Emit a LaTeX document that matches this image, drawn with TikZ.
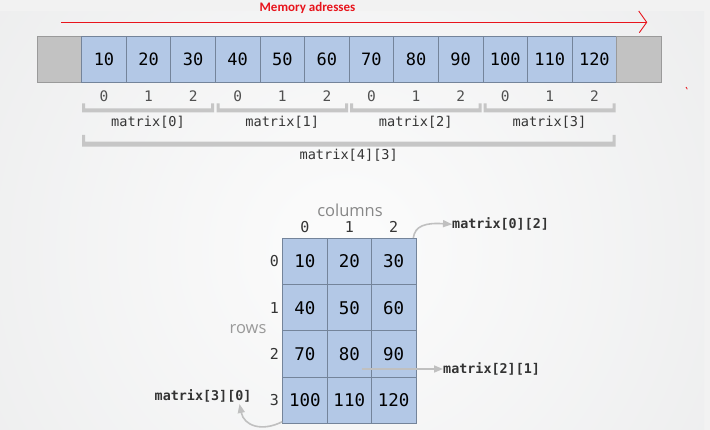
\documentclass[tikz,border=0pt]{standalone}
\usepackage{fontspec}
\setmainfont{Open Sans}
\setmonofont{DejaVu Sans Mono}
\newfontfamily\carl{Carlito}
\usetikzlibrary{arrows.meta}
\definecolor{cellblue}{HTML}{B3C8E6}
\definecolor{cellline}{HTML}{74849A}
\definecolor{cellgray}{HTML}{C2C2C2}
\definecolor{grayline}{HTML}{9A9A9A}
\definecolor{bgin}{HTML}{FCFCFC}
\definecolor{bgout}{HTML}{E4E5E6}
\definecolor{bgstrip}{HTML}{F2F2F2}
\definecolor{memred}{HTML}{E8141C}
\definecolor{brk}{HTML}{C6C6C6}
\definecolor{arrowgray}{HTML}{C0C0C0}
\definecolor{idxgray}{HTML}{505050}
\definecolor{labdark}{HTML}{353535}
\tikzset{
  barcell/.style={draw=cellline, line width=0.8pt, fill=cellblue, minimum width=44.58pt, minimum height=46.3pt, inner sep=0pt, font=\ttfamily\fontsize{17}{20}\selectfont},
  endcell/.style={draw=grayline, line width=0.8pt, fill=cellgray, minimum width=44.4pt, minimum height=46.3pt, inner sep=0pt},
  gcell/.style={draw=cellline, line width=0.8pt, fill=cellblue, minimum width=44.4pt, minimum height=46.25pt, inner sep=0pt, font=\ttfamily\fontsize{17.5}{20}\selectfont},
  idx/.style={text=idxgray, inner sep=0pt, font=\ttfamily\fontsize{14.5}{17}\selectfont},
  rclab/.style={text=labdark, inner sep=0pt, font=\ttfamily\fontsize{15}{17}\selectfont},
  grouplab/.style={text=labdark, inner sep=0pt, font=\ttfamily\fontsize{13.6}{16}\selectfont},
  calllab/.style={text=black!80, inner sep=0pt, font=\ttfamily\bfseries\fontsize{13.4}{16}\selectfont},
  axislab/.style={inner sep=0pt, font=\fontsize{16.5}{19}\selectfont},
  garrow/.style={draw=arrowgray, line width=1.6pt, -{Triangle[length=9pt,width=7pt]}},
  redline/.style={draw=memred, line width=0.9pt},
  brkfill/.style={fill=brk}
}
\begin{document}
\begin{tikzpicture}[x=1pt,y=-1pt]
\useasboundingbox (0,0) rectangle (710,430);
% background
\fill[bgstrip] (0,0) rectangle (710,430);
\begin{scope}
  \clip (0,12) rectangle (704,430);
  \shade[inner color=bgin, outer color=bgout] (345,250) circle (700);
\end{scope}

% memory addresses arrow
\node[text=memred, inner sep=0pt, font=\carl\bfseries\fontsize{13}{15}\selectfont] (memlab) at (307.5,7.5) {Memory adresses};
\coordinate (ra) at (61,22.3);
\coordinate (rb) at (646.7,22.3);
\coordinate (rc1) at (638.7,11);
\coordinate (rc2) at (639.3,32.7);
\draw[redline] (ra) -- (rb);
\draw[redline] (rc1) -- (rb) -- (rc2);
\coordinate (tk1) at (686,87);
\coordinate (tk2) at (687.3,89.3);
\draw[memred, line width=0.8pt] (tk1) -- (tk2);

% memory bar
\node[endcell] (gl) at (59.5,59.2) {};
\foreach \i in {1,...,12} {
  \pgfmathtruncatemacro\v{10*\i}
  \pgfmathtruncatemacro\k{mod(\i-1,3)}
  \node[barcell] (m\i) at ({81.7+44.58*(\i-0.5)},59.2) {\v};
  \node[idx] (ix\i) at ({81.7+44.58*(\i-0.5)},96) {\k};
}
\node[endcell] (gr) at (638.9,59.2) {};

% group brackets
\foreach \a/\b [count=\n from 0] in {82/214, 216.5/348, 350/481.5, 483.5/615.5} {
  \fill[brkfill] (\a,103.3) -- (\a+3,103.3) -- (\a+3,108.3) -- (\b-3,108.3) -- (\b-3,103.3) -- (\b,103.3) -- (\b,112.3) -- (\a,112.3) -- cycle;
  \node[grouplab] (grp\n) at ({(\a+\b)/2},122.3) {matrix[\n]};
}
\fill[brkfill] (82,135) -- (85,135) -- (85,141.7) -- (612.5,141.7) -- (612.5,135) -- (615.5,135) -- (615.5,146.7) -- (82,146.7) -- cycle;
\node[grouplab] (all) at (348.7,155.5) {matrix[4][3]};

% 2D grid
\foreach \r in {0,...,3} {
  \foreach \c in {0,...,2} {
    \pgfmathtruncatemacro\v{10*(3*\r+\c+1)}
    \node[gcell] (g\r\c) at ({282.7+44.4*(\c+0.5)},{238.3+46.25*(\r+0.5)}) {\v};
  }
  \node[rclab] (row\r) at (274.5,{238.3+46.25*(\r+0.5)}) {\r};
}
\foreach \c in {0,...,2} {
  \node[rclab] (col\c) at ({282.7+44.4*(\c+0.5)},227) {\c};
}
\node[axislab, text=black!47] (colsname) at (350,210.5) {columns};
\node[axislab, text=black!40] (rowsname) at (248,329) {rows};

% callouts
\node[calllab, anchor=west] (l02) at (452,224.3) {matrix[0][2]};
\node[calllab, anchor=west] (l21) at (443,369) {matrix[2][1]};
\node[calllab, anchor=east] (l30) at (251.7,395.7) {matrix[3][0]};

\draw[garrow] ([xshift=-3pt]g02.north east) .. controls (415,226) and (425,222.5) .. (l02.west);
\coordinate (a21) at (361.7,369);
\draw[garrow] (a21) -- (l21.west);
\coordinate (t30) at (239.5,404);
\draw[garrow] ([yshift=2pt]g30.south west) .. controls (262,432) and (244,426) .. (t30);
\end{tikzpicture}
\end{document}
